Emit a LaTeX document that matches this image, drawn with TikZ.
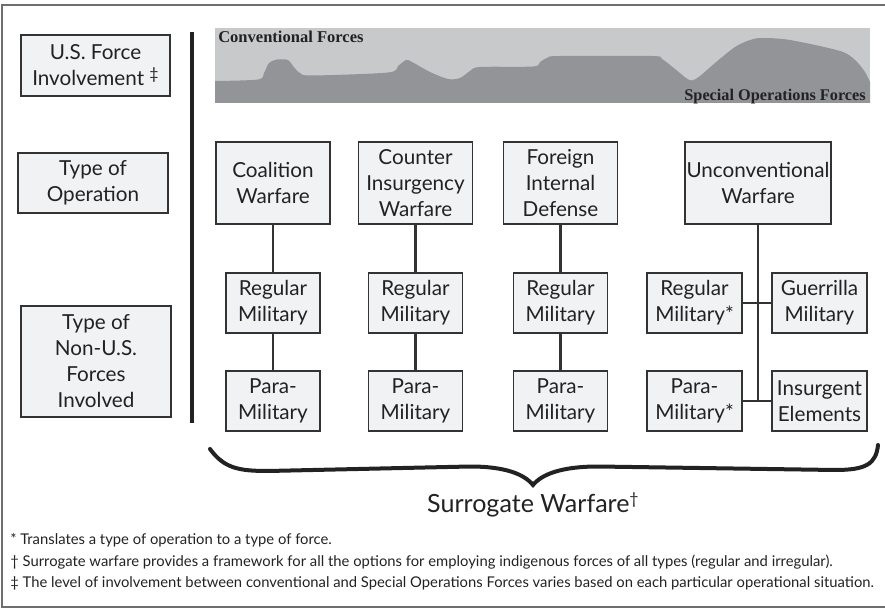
\documentclass[tikz,border=0pt]{standalone}
\usepackage{fontspec}
\setmainfont{Lato}
\newfontfamily\bannerfont{Liberation Serif}
\usetikzlibrary{positioning}
\definecolor{boxfill}{HTML}{F1F2F3}
\definecolor{boxline}{HTML}{333333}
\definecolor{skylight}{HTML}{C8C9CB}
\definecolor{hilldark}{HTML}{939498}
\definecolor{framegrey}{HTML}{6E6E6E}
\definecolor{inkgrey}{HTML}{222222}
\tikzset{
    block/.style={
           rectangle,
           draw=boxline, line width=1.2pt,
           fill=boxfill,
           text=inkgrey,
           inner sep=1pt,
           align=center,
           font=\fontsize{15.5}{19.5}\selectfont,
           },
    link/.style={draw=boxline, line width=1.8pt},
    note/.style={anchor=west, inner sep=0pt, text=inkgrey,
           font=\fontsize{11.1}{13}\selectfont},
}
\newcommand{\upmark}[1]{\raisebox{0.6ex}{\fontsize{12}{12}\selectfont #1}}

\begin{document}
\begin{tikzpicture}[x=0.75pt, y=-0.75pt]
  \newlength{\opwidth}
  \setlength{\opwidth}{85.5pt}
  \newlength{\opheight}
  \setlength{\opheight}{61.5pt}
  \newlength{\forcewidth}
  \setlength{\forcewidth}{70.5pt}
  \newlength{\forceheight}
  \setlength{\forceheight}{45pt}

  \useasboundingbox (0,0) rectangle (885,609);
  \draw[framegrey, line width=1.3pt] (2,5) rectangle (889,607);

  % row headers on the left
  \node[block, minimum width=111.75pt, minimum height=45.75pt] (USFORCE) at (95.5,65.5)
   {U.S. Force\\Involvement \upmark{‡}};
  \node[block, minimum width=112.5pt, minimum height=45pt] (OPTYPE) at (93,183)
   {Type of\\Operation};
  \node[block, minimum width=112.5pt, minimum height=83.25pt] (NONUS) at (96,361.5)
   {Type of\\Non-U.S.\\Forces\\Involved};

  % thick divider
  \draw[inkgrey, line width=3.4pt] (192,32) -- (192,423);

  % involvement band: conventional above, SOF below
  \fill[skylight] (215,28) rectangle (870,103);
  \fill[hilldark] (215,103) -- plot[smooth, tension=0.5] coordinates {
     (215,81) (258,79.5) (264,73) (269,63) (277,59.5) (288,60) (293,66)
     (300,73) (312,75.5) (388,72.5) (398,66) (406,60) (412,62) (430,72)
     (448,79) (460,78) (470,71) (480,67) (533,66.5) (540,62) (548,57.5)
     (560,56) (652,56) (662,59) (675,69) (686,78) (692,80.5) (700,76)
     (715,63) (735,47) (750,40) (762,38) (790,40) (840,51) (855,60)
     (865,72) (870,82)} -- (870,103) -- cycle;
  \node[anchor=base west, inner sep=0pt, text=inkgrey,
    font=\bannerfont\bfseries\fontsize{12.4}{14}\selectfont] (CONV) at (218,43)
   {Conventional Forces};
  \node[anchor=base east, inner sep=0pt, text=inkgrey,
    font=\bannerfont\bfseries\fontsize{12.2}{14}\selectfont] (SOF) at (866,101)
   {Special Operations Forces};

  % type of operation
  \node[block, minimum width=\opwidth, minimum height=\opheight] (COAL) at (273,183)
   {Coalition\\Warfare};
  \node[block, minimum width=\opwidth, minimum height=\opheight] (COIN) at (415.5,183)
   {Counter\\Insurgency\\Warfare};
  \node[block, minimum width=\opwidth, minimum height=\opheight] (FID) at (560.5,183)
   {Foreign\\Internal\\Defense};
  \node[block, minimum width=108pt, minimum height=\opheight] (UW) at (758,183)
   {Unconventional\\Warfare};

  % forces under each operation
  \node[block, minimum width=\forcewidth, minimum height=\forceheight,
    below of=COAL, node distance=90pt] (REGA) {Regular\\Military};
  \node[block, minimum width=\forcewidth, minimum height=\forceheight,
    below of=REGA, node distance=73.5pt] (PARAA) {Para-\\Military};
  \node[block, minimum width=\forcewidth, minimum height=\forceheight,
    below of=COIN, node distance=90pt] (REGB) {Regular\\Military};
  \node[block, minimum width=\forcewidth, minimum height=\forceheight,
    below of=REGB, node distance=73.5pt] (PARAB) {Para-\\Military};
  \node[block, minimum width=\forcewidth, minimum height=\forceheight,
    below of=FID, node distance=90pt] (REGC) {Regular\\Military};
  \node[block, minimum width=\forcewidth, minimum height=\forceheight,
    below of=REGC, node distance=73.5pt] (PARAC) {Para-\\Military};

  % UW splits both ways
  \node[block, minimum width=71.25pt, minimum height=\forceheight] (REGD) at (694.5,303)
   {Regular\\Military*};
  \node[block, minimum width=71.25pt, minimum height=\forceheight] (PARAD) at (694.5,401)
   {Para-\\Military*};
  \node[block, minimum width=71.25pt, minimum height=\forceheight] (GUER) at (819.5,303)
   {Guerrilla\\Military};
  \node[block, minimum width=71.25pt, minimum height=\forceheight] (INSUR) at (819.5,401)
   {Insurgent\\Elements};

  \path[link]
   (COAL) -- (REGA) (REGA) -- (PARAA)
   (COIN) -- (REGB) (REGB) -- (PARAB)
   (FID) -- (REGC) (REGC) -- (PARAC)
   (UW.south) -- (UW.south |- PARAD.east)
   (REGD) -- (GUER)
   (PARAD) -- (INSUR);

  % brace + caption
  \draw[inkgrey, line width=3pt, line cap=round]
   (210,449) .. controls (224,468) and (238,471) .. (268,471)
   -- (470,466.5) .. controls (505,466.5) and (524,474) .. (533,485)
   .. controls (542,474) and (562,466.5) .. (598,466.5)
   -- (835,470) .. controls (866,470) and (876,464) .. (878,445);
  \node[text=inkgrey, inner sep=0pt, font=\fontsize{18.8}{22}\selectfont] (SURR) at (533,505)
   {Surrogate Warfare\upmark{†}};

  % footnotes
  \node[note] (NOTEA) at (10,540) {* Translates a type of operation to a type of force.};
  \node[note] (NOTEB) at (10,562) {† Surrogate warfare provides a framework for all the options for employing indigenous forces of all types (regular and irregular).};
  \node[note] (NOTEC) at (10,583) {‡ The level of involvement between conventional and Special Operations Forces varies based on each particular operational situation.};

\end{tikzpicture}
\end{document}
